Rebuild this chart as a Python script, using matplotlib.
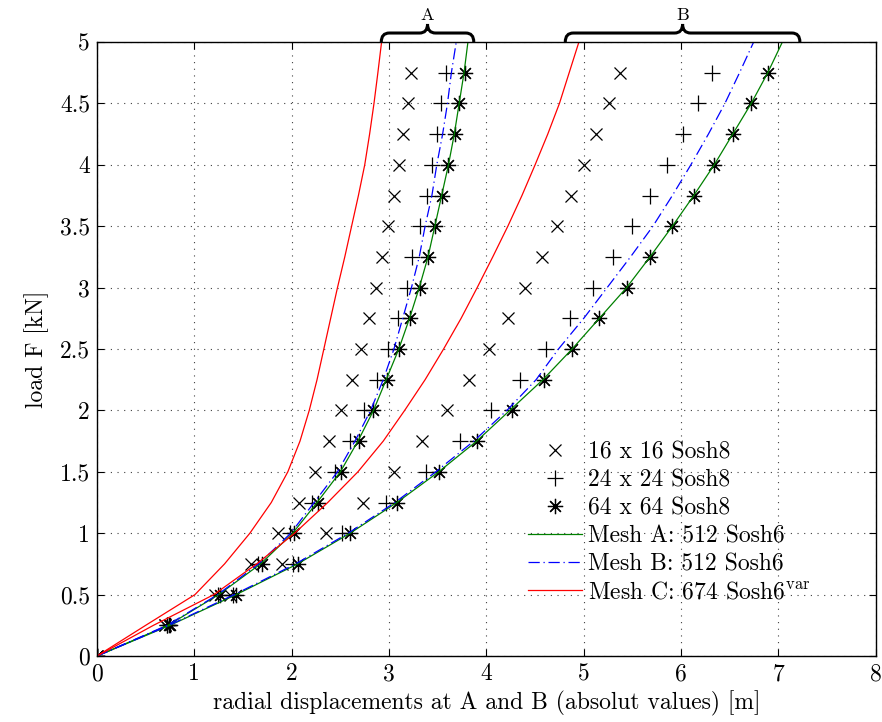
import numpy as np
import matplotlib
matplotlib.use('Agg')
import matplotlib.pyplot as plt
from matplotlib.path import Path
from matplotlib.patches import PathPatch
import matplotlib.transforms as mtransforms

plt.rcParams['font.family'] = 'serif'
plt.rcParams['font.serif'] = ['cmr10', 'DejaVu Serif']
plt.rcParams['mathtext.fontset'] = 'cm'
plt.rcParams['axes.formatter.use_mathtext'] = True

#------------------------------------------- data -------------------------------------------
F_pts = [0, 0.25, 0.5, 0.75, 1.0, 1.25, 1.5, 1.75, 2.0, 2.25, 2.5, 2.75, 3.0, 3.25, 3.5, 3.75, 4.0, 4.25, 4.5, 4.75]
F_line = [0, 0.25, 0.5, 0.75, 1.0, 1.25, 1.5, 1.75, 2.0, 2.25, 2.5, 2.75, 3.0, 3.25, 3.5, 3.75, 4.0, 4.25, 4.5, 4.75, 5.0]

# point A
x16_A = [0, 0.70, 1.215, 1.58, 1.855, 2.07, 2.24, 2.385, 2.51, 2.615, 2.71, 2.79, 2.865, 2.93, 2.99, 3.05, 3.10, 3.145, 3.19, 3.23]
x24_A = [0, 0.72, 1.245, 1.655, 1.98, 2.21, 2.44, 2.60, 2.74, 2.88, 2.99, 3.09, 3.18, 3.24, 3.32, 3.385, 3.44, 3.49, 3.53, 3.58]
x64_A = [0, 0.74, 1.26, 1.69, 2.02, 2.265, 2.505, 2.69, 2.84, 2.975, 3.10, 3.21, 3.32, 3.40, 3.475, 3.54, 3.61, 3.675, 3.72, 3.78]
# point B
x16_B = [0, 0.70, 1.37, 1.905, 2.35, 2.73, 3.05, 3.34, 3.59, 3.82, 4.03, 4.22, 4.40, 4.57, 4.72, 4.865, 5.00, 5.13, 5.26, 5.37]
x24_B = [0, 0.72, 1.40, 2.015, 2.52, 2.97, 3.38, 3.73, 4.05, 4.34, 4.615, 4.86, 5.09, 5.30, 5.50, 5.68, 5.85, 6.02, 6.17, 6.32]
x64_B = [0, 0.75, 1.43, 2.06, 2.60, 3.08, 3.51, 3.90, 4.26, 4.59, 4.88, 5.16, 5.44, 5.685, 5.91, 6.13, 6.34, 6.53, 6.72, 6.89]

meshA_A = [0, 0.73, 1.25, 1.68, 2.01, 2.26, 2.50, 2.68, 2.84, 2.97, 3.10, 3.21, 3.31, 3.40, 3.47, 3.54, 3.61, 3.67, 3.72, 3.77, 3.81]
meshB_A = [0, 0.72, 1.24, 1.66, 1.99, 2.23, 2.47, 2.65, 2.81, 2.94, 3.05, 3.14, 3.23, 3.31, 3.37, 3.44, 3.49, 3.55, 3.60, 3.64, 3.69]
meshC_A = [0, 0.50, 1.006, 1.31, 1.57, 1.79, 1.96, 2.085, 2.18, 2.26, 2.33, 2.40, 2.47, 2.545, 2.615, 2.685, 2.75, 2.80, 2.845, 2.885, 2.923]
meshA_B = [0, 0.75, 1.43, 2.06, 2.60, 3.08, 3.51, 3.90, 4.24, 4.58, 4.88, 5.16, 5.44, 5.68, 5.91, 6.13, 6.34, 6.53, 6.72, 6.89, 7.04]
meshB_B = [0, 0.74, 1.41, 2.04, 2.58, 3.06, 3.48, 3.87, 4.21, 4.51, 4.74, 5.00, 5.24, 5.48, 5.71, 5.91, 6.10, 6.28, 6.45, 6.60, 6.745]
meshC_B = [0, 0.58, 1.20, 1.64, 2.03, 2.37, 2.68, 2.94, 3.16, 3.37, 3.56, 3.74, 3.905, 4.065, 4.22, 4.365, 4.50, 4.63, 4.75, 4.85, 4.95]

braces = [(2.92, 3.87, 'A'), (4.81, 7.22, 'B')]

#------------------------------------------------------ plot ------------------------------------------------------
fig = plt.figure(figsize=(8.82, 7.22), dpi=100)
ax = fig.add_axes([0.110, 0.0914, 0.883, 0.8504])

ms = dict(color='k', linestyle='none', markeredgewidth=0.9)
ax.plot(x16_A, F_pts, marker='x', markersize=8, label='16 x 16 Sosh8', **ms)
ax.plot(x24_A, F_pts, marker='+', markersize=11, label='24 x 24 Sosh8', **ms)
ax.plot(x64_A, F_pts, marker=(8, 2, 0), markersize=11, label='64 x 64 Sosh8', **ms)
ax.plot(x16_B, F_pts, marker='x', markersize=8, **ms)
ax.plot(x24_B, F_pts, marker='+', markersize=11, **ms)
ax.plot(x64_B, F_pts, marker=(8, 2, 0), markersize=11, **ms)

ax.plot(meshA_A, F_line, color='green', linewidth=0.9, label='Mesh A: 512 Sosh6')
ax.plot(meshA_B, F_line, color='green', linewidth=0.9)
ax.plot(meshB_A, F_line, color='blue', linewidth=0.9, dashes=(9, 3, 1, 3), label='Mesh B: 512 Sosh6')
ax.plot(meshB_B, F_line, color='blue', linewidth=0.9, dashes=(9, 3, 1, 3))
ax.plot(meshC_A, F_line, color='red', linewidth=0.9, label=r'Mesh C: 674 Sosh6$^{\rm var}$')
ax.plot(meshC_B, F_line, color='red', linewidth=0.9)

ax.set_xlim(0, 8)
ax.set_ylim(0, 5)
ax.set_xticks(range(0, 9))
ax.set_xticklabels([str(i) for i in range(0, 9)])
yt = np.arange(0, 5.01, 0.5)
ax.set_yticks(yt)
ax.set_yticklabels(['0', '0.5', '1', '1.5', '2', '2.5', '3', '3.5', '4', '4.5', '5'])
ax.tick_params(direction='in', length=5, width=0.8, top=True, right=True, labelsize=17, pad=5)
ax.grid(True, color='0.25', linestyle=(0, (1, 5)), linewidth=0.8)
for s in ax.spines.values():
    s.set_linewidth(1.0)

ax.set_xlabel('radial displacements at A and B (absolut values) [m]', fontsize=17, labelpad=4)
ax.set_ylabel('load F [kN]', fontsize=17, labelpad=8)

leg = ax.legend(loc='lower left', bbox_to_anchor=(0.541, 0.07), frameon=False, fontsize=17,
                handlelength=2.3, handletextpad=0.25, labelspacing=0.25, borderaxespad=0)

# curly braces above the axes
trans = mtransforms.blended_transform_factory(ax.transData, ax.transAxes)
h = 9 / 614.0
cx = 8 / 97.4
for x0, x1, lab in braces:
    xm = 0.5 * (x0 + x1)
    verts = [(x0, 1.0), (x0, 1 + h), (x0 + cx, 1 + h),
             (xm - cx, 1 + h), (xm, 1 + h), (xm, 1 + 2 * h),
             (xm, 1 + h), (xm + cx, 1 + h),
             (x1 - cx, 1 + h), (x1, 1 + h), (x1, 1.0)]
    codes = [Path.MOVETO, Path.CURVE3, Path.CURVE3,
             Path.LINETO, Path.CURVE3, Path.CURVE3,
             Path.CURVE3, Path.CURVE3,
             Path.LINETO, Path.CURVE3, Path.CURVE3]
    p = PathPatch(Path(verts, codes), fill=False, lw=2.2, color='k', transform=trans, clip_on=False)
    ax.add_patch(p)
    ax.text(xm, 1 + 2 * h + 0.002, lab, transform=trans, ha='center', va='bottom', fontsize=13)

fig.savefig('out.png', dpi=100)
